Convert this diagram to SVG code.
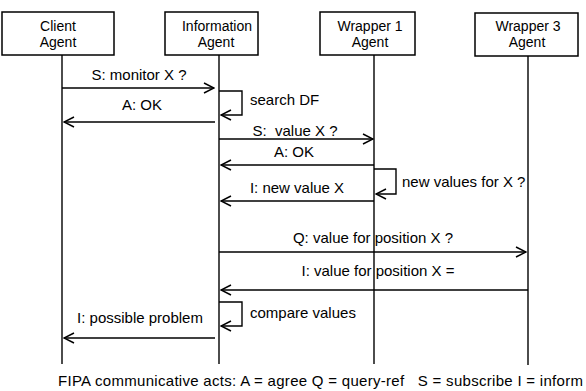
<svg xmlns="http://www.w3.org/2000/svg" width="586" height="391" viewBox="0 0 586 391">
<defs>
<style>
text{font-family:"Liberation Sans",Arial,sans-serif;font-size:15px;fill:#000}
.bt{font-size:14px}
.box{fill:#fff;stroke:#000;stroke-width:1.5}
.life{stroke:#000;stroke-width:1.4;fill:none}
.msg{stroke:#000;stroke-width:1.4;fill:none;marker-end:url(#arr)}
.c{text-anchor:middle}
</style>
<marker id="arr" viewBox="0 0 12 12" refX="11" refY="6" markerWidth="12" markerHeight="12" markerUnits="userSpaceOnUse" orient="auto">
<path d="M1,1 L11,6 L1,11" fill="none" stroke="#000" stroke-width="1.5"/>
</marker>
</defs>
<rect width="586" height="391" fill="#fff"/>
<g id="client">
<rect class="box" x="2" y="12" width="112" height="43"/>
<text class="c bt" x="58" y="31">Client</text>
<text class="c bt" x="58" y="47">Agent</text>
<line class="life" x1="62" y1="55" x2="62" y2="364"/>
</g>
<g id="information">
<rect class="box" x="165" y="12" width="93" height="43"/>
<text class="c bt" x="217" y="31">Information</text>
<text class="c bt" x="216" y="47">Agent</text>
<line class="life" x1="219" y1="55" x2="219" y2="364"/>
</g>
<g id="wrapper1">
<rect class="box" x="320" y="12" width="95" height="43"/>
<text class="c bt" x="370" y="31">Wrapper 1</text>
<text class="c bt" x="370" y="47">Agent</text>
<line class="life" x1="374" y1="55" x2="374" y2="364"/>
</g>
<g id="wrapper3">
<rect class="box" x="475" y="13" width="103" height="43"/>
<text class="c bt" x="528" y="31">Wrapper 3</text>
<text class="c bt" x="527" y="47">Agent</text>
<line class="life" x1="528" y1="56" x2="528" y2="365"/>
</g>
<g id="connectors">
<line class="msg" x1="62" y1="88" x2="214" y2="88"/>
<text class="c" x="139" y="80">S: monitor X ?</text>
<polyline class="msg" points="219,91 242,91 242,115 221,115"/>
<text x="250" y="105">search DF</text>
<line class="msg" x1="215" y1="122" x2="64" y2="122"/>
<text class="c" x="142" y="110">A: OK</text>
<line class="msg" x1="219" y1="139" x2="373" y2="139"/>
<text class="c" x="295" y="136" xml:space="preserve">S:  value X ?</text>
<line class="msg" x1="374" y1="165" x2="221" y2="165"/>
<text class="c" x="294" y="157">A: OK</text>
<polyline class="msg" points="374,169 396,169 396,194 376,194"/>
<text x="402" y="187">new values for X ?</text>
<line class="msg" x1="374" y1="201" x2="221" y2="201"/>
<text class="c" x="297" y="193">I: new value X</text>
<line class="msg" x1="219" y1="252" x2="526" y2="252"/>
<text class="c" x="373" y="243">Q: value for position X ?</text>
<line class="msg" x1="528" y1="290" x2="221" y2="290"/>
<text class="c" x="378" y="276">I: value for position X =</text>
<polyline class="msg" points="219,302 242,302 242,326 221,326"/>
<text x="250" y="318">compare values</text>
<line class="msg" x1="215" y1="338" x2="64" y2="338"/>
<text class="c" x="140" y="323">I: possible problem</text>
</g>
<text x="58" y="386" textLength="525" lengthAdjust="spacing" xml:space="preserve">FIPA communicative acts: A = agree Q = query-ref   S = subscribe I = inform</text>
</svg>
